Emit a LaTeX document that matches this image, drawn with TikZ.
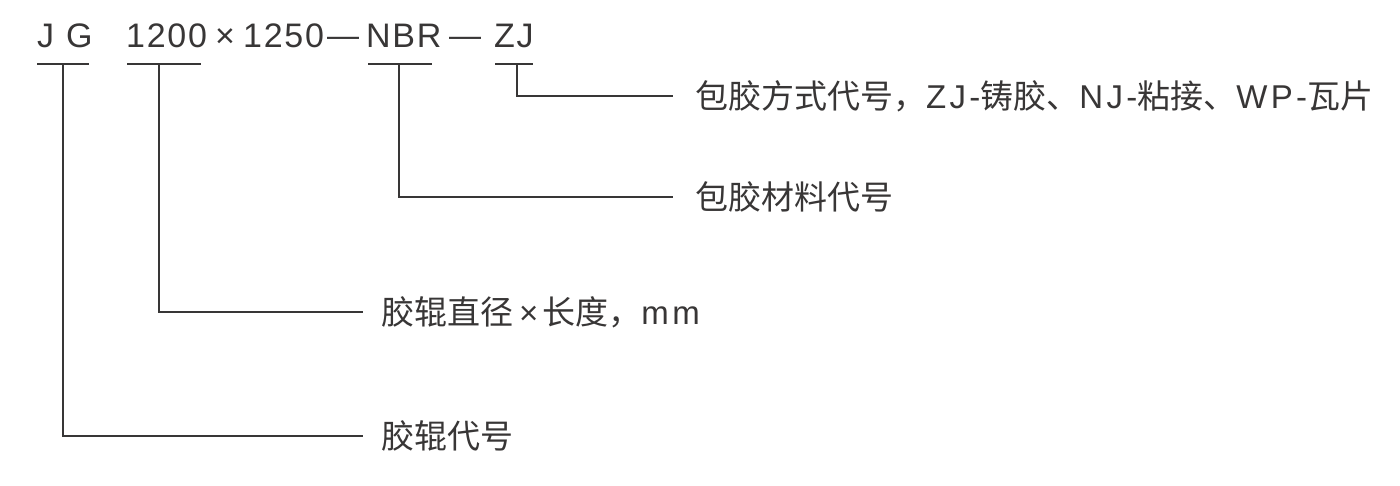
\documentclass[tikz,border=0pt]{standalone}
\usepackage{fontspec}
\setmainfont{Noto Sans CJK SC}
\newfontfamily\latlab[LetterSpace=10]{Liberation Sans}
\newfontfamily\lattop[LetterSpace=5]{Liberation Sans}
\newfontfamily\latdash{Liberation Sans}
\definecolor{ink}{HTML}{383636}
\newcommand{\lb}[1]{{\latlab\fontsize{33}{38}\selectfont #1}}
\begin{document}
\begin{tikzpicture}[x=1pt,y=-1pt,
  top/.style={anchor=base west, inner sep=0pt, font=\lattop\fontsize{34}{40}\selectfont, text=ink},
  topdash/.style={anchor=base west, inner sep=0pt, font=\latdash\fontsize{32}{40}\selectfont, text=ink},
  lab/.style={anchor=west, inner sep=0pt, font=\fontsize{33}{38}\selectfont, text=ink},
  conn/.style={draw=ink, line width=1.4pt}]
\useasboundingbox (0,0) rectangle (1400,485);
% top code line
\node[top] (tJ) at (37,47) {J};
\node[top] (tG) at (66,47) {G};
\node[top] (t1200) at (126,47) {1200};
\node[top] (tx) at (215,47) {×};
\node[top] (t1250) at (243,47) {1250};
\node[topdash] (td1) at (327,46) {—};
\node[top] (tNBR) at (366,47) {NBR};
\node[topdash] (td2) at (449,46) {—};
\node[top] (tZJ) at (494,47) {ZJ};
% underline bars
\coordinate (bJGl) at (37,64);  \coordinate (bJGr) at (89,64);  \coordinate (bJG) at (63,64);
\coordinate (bDl) at (127,64);  \coordinate (bDr) at (201,64);  \coordinate (bD) at (159,64);
\coordinate (bNl) at (368,64);  \coordinate (bNr) at (432,64);  \coordinate (bN) at (399,64);
\coordinate (bZl) at (495,64);  \coordinate (bZr) at (533,64);  \coordinate (bZ) at (517,64);
\draw[conn] (bJGl) -- (bJGr);
\draw[conn] (bDl) -- (bDr);
\draw[conn] (bNl) -- (bNr);
\draw[conn] (bZl) -- (bZr);
% labels
\node[lab] (l1) at (695,96) {包胶方式代号，\lb{ZJ-}铸胶、\lb{NJ-}粘接、\lb{WP-}瓦片};
\node[lab] (l2) at (695,197) {包胶材料代号};
\node[lab] (l3) at (381,312) {胶辊直径\lb{\kern6pt×\kern4pt}长度，\lb{mm}};
\node[lab] (l4) at (381,436) {胶辊代号};
% connectors
\draw[conn] (bZ) |- ([xshift=-22pt]l1.west);
\draw[conn] (bN) |- ([xshift=-22pt]l2.west);
\draw[conn] (bD) |- ([xshift=-18pt]l3.west);
\draw[conn] (bJG) |- ([xshift=-18pt]l4.west);
\end{tikzpicture}
\end{document}
